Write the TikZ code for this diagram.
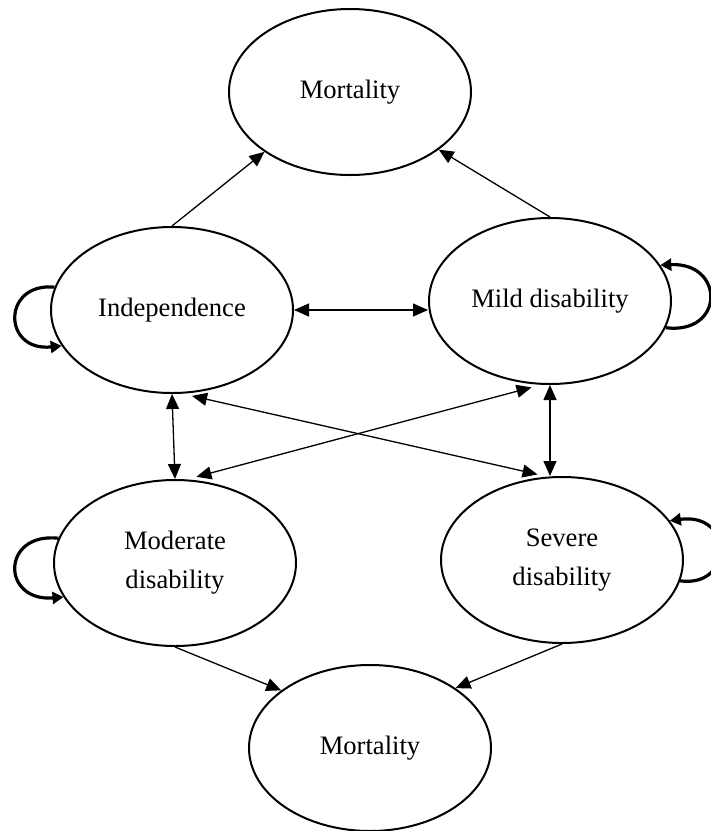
\documentclass[tikz,border=0pt]{standalone}
\usepackage{fontspec}
\setmainfont{Liberation Serif}
\usetikzlibrary{shapes.geometric,arrows.meta}
\begin{document}
\begin{tikzpicture}[x=0.5pt,y=-0.5pt,
    state/.style={draw,ellipse,line width=1pt,minimum width=121pt,minimum height=83pt,inner sep=0pt,
        align=center,font=\fontsize{13.3}{19.5}\selectfont},
    link/.style={line width=0.65pt,-{Triangle[length=7.5pt,width=6.5pt]}},
    both/.style={line width=0.65pt,{Triangle[length=7.5pt,width=6.5pt]}-{Triangle[length=7.5pt,width=6.5pt]}},
    selfloop/.style={line width=1.6pt,-{Triangle[length=5.5pt,width=6pt]}}]
    \useasboundingbox (0,0) rectangle (711,831);
    \node[state] (mortT) at (350,92) {Mortality};
    \node[state] (indep) at (172,310) {Independence};
    \node[state] (mild) at (550,301) {Mild disability};
    \node[state] (moder) at (175,563) {Moderate\\disability};
    \node[state] (severe) at (562,560) {Severe\\disability};
    \node[state] (mortB) at (370,748) {Mortality};
    \draw[link] (indep.north) -- (mortT.215);
    \draw[link] (mild.north) -- (mortT.327);
    \draw[both] (indep.east) -- (indep.east -| mild.west);
    \draw[both] (indep.south) -- (moder.north);
    \draw[both] (mild.south) -- (mild.south |- severe.north);
    \draw[both,shorten <=5pt,shorten >=5pt] (indep.277) -- (severe.100);
    \draw[both,shorten <=5pt,shorten >=5pt] (moder.82) -- (mild.264);
    \draw[link] (moder.south) -- (mortB.147);
    \draw[link] (severe.south) -- (mortB.35);
    \draw[selfloop] (indep.169) .. controls (2,282) and (2,352) .. (indep.198);
    \draw[selfloop] (mild.347) .. controls (725,335) and (725,262) .. (mild.18);
    \draw[selfloop] (moder.168) .. controls (1,532) and (1,602) .. (moder.197);
    \draw[selfloop] (severe.350) .. controls (734,588) and (734,512) .. (severe.20);
\end{tikzpicture}
\end{document}
